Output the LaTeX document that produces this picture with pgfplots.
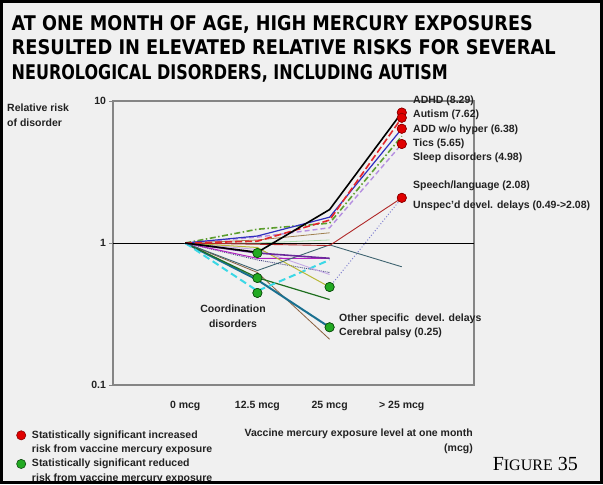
\documentclass[border=0pt]{standalone}
\usepackage{fontspec}
\setmainfont{Liberation Sans}
\newfontfamily\titlefont{DejaVu Sans}
\newfontfamily\figfont{Liberation Serif}
\usepackage{graphicx}
\usepackage{pgfplots}
\pgfplotsset{compat=1.18}
\definecolor{bg}{HTML}{F0F0F0}
\definecolor{axgray}{HTML}{858585}
\definecolor{txt}{HTML}{222222}
\definecolor{cRed}{HTML}{E3262A}
\definecolor{cBlue}{HTML}{2F2FBF}
\definecolor{cTics}{HTML}{5C9E2E}
\definecolor{cLav}{HTML}{B58FE0}
\definecolor{cDRed}{HTML}{B02828}
\definecolor{cOlive}{HTML}{B8B838}
\definecolor{cDot}{HTML}{8080D0}
\definecolor{cSlate}{HTML}{3F6470}
\definecolor{cMag}{HTML}{B020C0}
\definecolor{cCyan}{HTML}{3AD8E6}
\definecolor{cDGreen}{HTML}{1F6F1F}
\definecolor{cTeal}{HTML}{1A7090}
\definecolor{cBrown}{HTML}{8A6040}
\definecolor{cLPurp}{HTML}{C4A8E6}
\definecolor{cNavy}{HTML}{404080}
\definecolor{cOBrown}{HTML}{A08050}
\definecolor{cLGreen}{HTML}{A8D8A8}
\definecolor{cPurp}{HTML}{6A2A9A}
\definecolor{mRed}{HTML}{E00000}
\definecolor{mRedE}{HTML}{8A0000}
\definecolor{mGreen}{HTML}{22AA22}
\definecolor{mGreenE}{HTML}{0E4A0E}
\begin{document}
\begin{tikzpicture}
\fill[bg] (0pt,0pt) rectangle (603pt,-484pt);
% title
\node[anchor=base west, inner sep=0pt] at (11.5pt,-30pt) {\resizebox{521pt}{15pt}{\titlefont\bfseries AT ONE MONTH OF AGE, HIGH MERCURY EXPOSURES}};
\node[anchor=base west, inner sep=0pt] at (11.5pt,-54.5pt) {\resizebox{544pt}{15pt}{\titlefont\bfseries RESULTED IN ELEVATED RELATIVE RISKS FOR SEVERAL}};
\node[anchor=base west, inner sep=0pt] at (11.5pt,-79pt) {\resizebox{436pt}{15pt}{\titlefont\bfseries NEUROLOGICAL DISORDERS, INCLUDING AUTISM}};
\begin{axis}[
  at={(113pt,-385pt)}, anchor=south west,
  scale only axis, width=361pt, height=284pt,
  xmin=-1, xmax=4, ymode=log, ymin=0.1, ymax=10,
  axis background/.style={fill=bg},
  axis line style={draw=axgray, line width=1.3pt},
  xtick={0,1,2,3}, xticklabels={0 mcg,12.5 mcg,25 mcg,{> 25 mcg}},
  ytick={0.1,1,10}, yticklabels={0.1,1,10},
  yminorticks=false,
  xtick style={draw=none},
  ytick pos=left, tick align=outside, major tick length=3.5pt,
  ytick style={draw=axgray, line width=1pt},
  ticklabel style={font=\bfseries\fontsize{10.5}{12}\selectfont, text=txt},
  xticklabel style={yshift=-9pt},
  clip=false,
  legend style={at={(-0.2676,-0.1534)}, anchor=north west, draw=none, fill=none,
    font=\bfseries\fontsize{10.5}{14.5}\selectfont, text=txt,
    cells={anchor=west, align=left}, row sep=1pt, inner sep=0pt},
  legend cell align=left,
  legend image code/.code={%
    \draw[mark repeat=2,mark phase=2,#1] plot coordinates {(0cm,7.25pt)(0.3cm,7.25pt)(0.6cm,7.25pt)};
    \path (0.3cm+8.6pt,7.25pt);},
]
% legend series first (only marks)
\addplot[only marks, mark=*, mark size=4.6pt, mark options={fill=mRed, draw=mRedE, line width=0.6pt}] coordinates {(3,8.29)(3,7.62)(3,6.38)(3,4.98)(3,2.08)};
\addlegendentry{Statistically significant increased\\risk from vaccine mercury exposure}
\addplot[only marks, mark=*, mark size=4.6pt, mark options={fill=mGreen, draw=mGreenE, line width=0.6pt}] coordinates {(1,0.85)(1,0.567)(1,0.445)(2,0.49)(2,0.255)};
\addlegendentry{Statistically significant reduced\\risk from vaccine mercury exposure}
% reference line at 1
\addplot[black, line width=0.8pt, forget plot] coordinates {(-1,1)(4,1)};
% series ending at 25 mcg
\addplot[cBrown, line width=0.8pt, forget plot] coordinates {(0,1)(1,0.62)(2,0.21)};
\addplot[cTeal, line width=2pt, forget plot] coordinates {(0,1)(1,0.55)(2,0.255)};
\addplot[cDGreen, line width=1.2pt, forget plot] coordinates {(0,1)(1,0.57)(2,0.40)};
\addplot[cCyan, line width=2pt, dash pattern=on 7pt off 4pt, forget plot] coordinates {(0,1)(1,0.46)(2,0.76)};
\addplot[cNavy, line width=0.9pt, densely dotted, forget plot] coordinates {(0,1)(1,0.76)(2,0.62)};
\addplot[cLPurp, line width=0.9pt, forget plot] coordinates {(0,1)(1,0.9)(2,0.6)};
\addplot[cMag, line width=1pt, forget plot] coordinates {(0,1)(1,0.78)(2,0.78)};
\addplot[cOBrown, line width=0.8pt, forget plot] coordinates {(0,1)(1,1.05)(2,1.18)};
\addplot[cLGreen, line width=0.8pt, forget plot] coordinates {(0,1)(1,1.0)(2,1.05)};
\addplot[cOlive, line width=1pt, forget plot] coordinates {(0,1)(1,0.93)(2,0.49)};
\addplot[cDot, line width=1pt, dotted, forget plot] coordinates {(2,0.49)(3,2.08)};
% series reaching > 25 mcg
\addplot[cSlate, line width=0.9pt, forget plot] coordinates {(0,1)(1,0.64)(2,0.97)(3,0.68)};
\addplot[cDRed, line width=0.9pt, forget plot] coordinates {(0,1)(1,0.98)(2,0.96)(3,2.08)};
\addplot[cPurp, line width=1.6pt, forget plot] coordinates {(0,1)(1,0.85)(2,0.78)};
\addplot[cLav, line width=1.4pt, dash pattern=on 5pt off 3pt, forget plot] coordinates {(0,1)(1,1.1)(2,1.28)(3,4.98)};
\addplot[cTics, line width=1.6pt, dash pattern=on 6pt off 2.5pt on 1.5pt off 2.5pt, forget plot] coordinates {(0,1)(1,1.25)(2,1.38)(3,5.65)};
\addplot[cBlue, line width=1.2pt, forget plot] coordinates {(0,1)(1,1.12)(2,1.52)(3,6.38)};
\addplot[cRed, line width=1.6pt, dash pattern=on 7pt off 3pt, forget plot] coordinates {(0,1)(1,1.03)(2,1.45)(3,7.62)};
\addplot[black, line width=1.6pt, forget plot] coordinates {(0,1)(1,0.86)(2,1.72)(3,8.29)};
% circles on top
\addplot[only marks, mark=*, mark size=4.6pt, mark options={fill=mRed, draw=mRedE, line width=0.6pt}, forget plot] coordinates {(3,8.29)(3,7.62)(3,6.38)(3,4.98)(3,2.08)};
\addplot[only marks, mark=*, mark size=4.6pt, mark options={fill=mGreen, draw=mGreenE, line width=0.6pt}, forget plot] coordinates {(1,0.85)(1,0.567)(1,0.445)(2,0.49)(2,0.255)};
\end{axis}
% annotations
\begin{scope}[every node/.style={anchor=west, inner sep=0pt, text=txt, font=\bfseries\fontsize{10.5}{12}\selectfont}]
\node at (413pt,-101pt) {ADHD (8.29)};
\node at (413pt,-115pt) {Autism (7.62)};
\node at (413pt,-130pt) {ADD w/o hyper (6.38)};
\node at (413pt,-144pt) {Tics (5.65)};
\node at (413pt,-158pt) {Sleep disorders (4.98)};
\node at (413pt,-186pt) {Speech/language (2.08)};
\node at (413pt,-206pt) {Unspec'd devel. delays (0.49->2.08)};
\node at (339pt,-319pt) {Other specific\ \ devel. delays};
\node at (339pt,-333pt) {Cerebral palsy (0.25)};
\node[anchor=center, align=center, font=\bfseries\fontsize{10.5}{15}\selectfont] at (233pt,-316pt) {Coordination\\disorders};
\node[anchor=north west, align=left, font=\bfseries\fontsize{10.5}{15}\selectfont] at (7pt,-104pt) {Relative risk\\of disorder};
\node[anchor=north east, align=right, font=\bfseries\fontsize{10.5}{14.5}\selectfont] at (473pt,-429pt) {Vaccine mercury exposure level at one month\\(mcg)};
\end{scope}
\node[anchor=base east, inner sep=0pt] at (578pt,-470pt) {\figfont\fontsize{20}{20}\selectfont F\fontsize{16}{16}\selectfont IGURE\fontsize{20}{20}\selectfont{} 35};
\draw[line width=3pt] (1.5pt,-1.5pt) rectangle (601.5pt,-482.5pt);
\end{tikzpicture}
\end{document}
